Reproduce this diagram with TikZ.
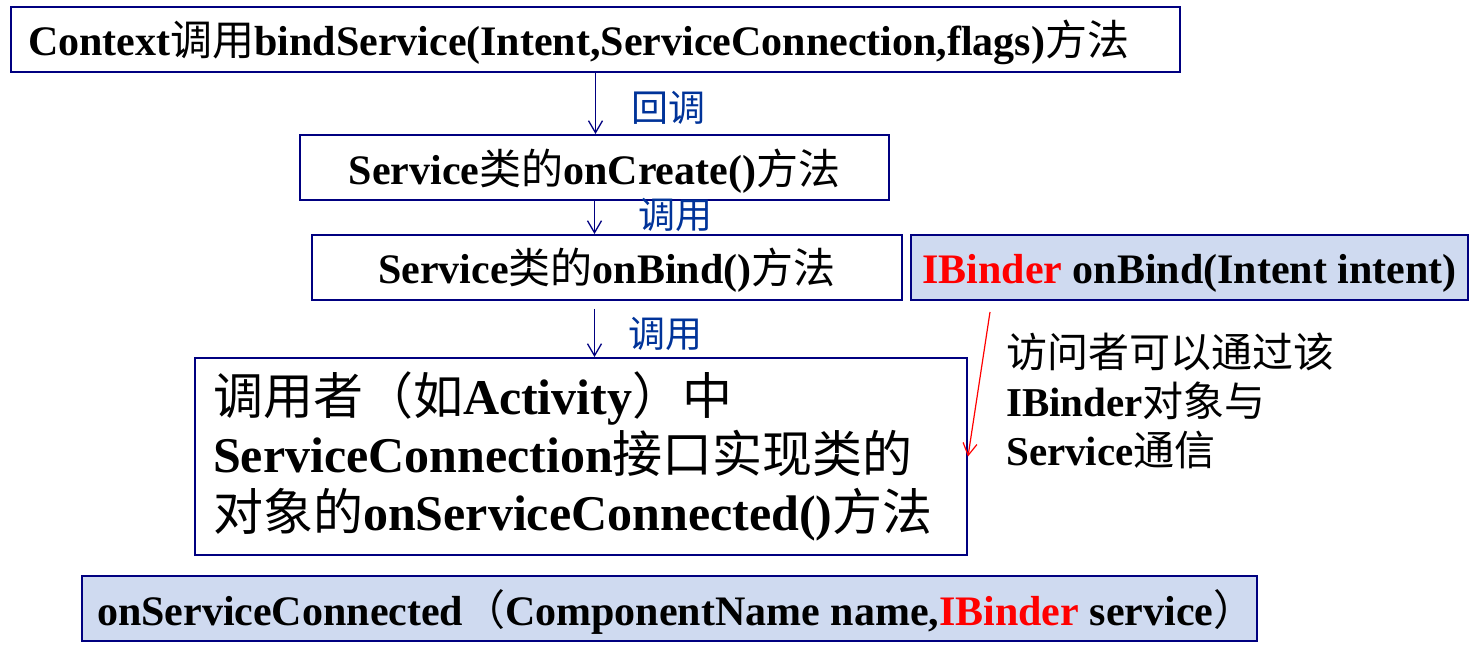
\documentclass[tikz,border=0pt]{standalone}
\usepackage{fontspec}
\setmainfont{Liberation Serif}
\newfontfamily\cjkfont{Noto Sans CJK SC}
\newcommand\zh[1]{{\cjkfont\mdseries #1}}
\usetikzlibrary{arrows.meta}
\definecolor{navy}{RGB}{0,0,128}
\definecolor{lightfill}{RGB}{207,218,240}
\definecolor{lblue}{RGB}{0,51,153}
\definecolor{redc}{RGB}{255,0,0}
\begin{document}
\begin{tikzpicture}[x=1pt,y=-1pt,
  box/.style={draw=navy, line width=2pt, inner sep=0pt, minimum height=65pt,
    text height=36pt, text depth=3pt,
    font=\bfseries\fontsize{42}{48}\selectfont},
  bluebox/.style={box, fill=lightfill},
  arr/.style={draw=navy, line width=1.3pt, -{Straight Barb[length=12pt,width=14pt]}},
  redarr/.style={draw=redc, line width=1.2pt, -{Straight Barb[length=12pt,width=14pt]}},
  lbl/.style={font=\cjkfont\fontsize{37}{40}\selectfont, text=lblue, inner sep=0pt},
  side/.style={font=\bfseries\fontsize{41}{49}\selectfont, align=left, inner sep=0pt}
]
\useasboundingbox (0,0) rectangle (1481,660);

\node[box, inner xsep=17pt] (b1) at (595.5,39.5)
  {\makebox[1135pt][l]{Context\zh{调用}bindService(Intent,ServiceConnection,flags)\zh{方法}}};
\node[box, minimum width=589pt, text height=38pt] (b2) at (594.5,167.5)
  {Service\zh{类的}onCreate()\zh{方法}};
\node[box, minimum width=590pt] (b3) at (607,267.5)
  {Service\zh{类的}onBind()\zh{方法}};
\node[bluebox, minimum width=557pt] (ib) at (1189.5,267.5)
  {\textcolor{redc}{IBinder} onBind(Intent intent)};
\node[box, minimum height=197pt, inner xsep=18pt, text width=736pt, align=left,
  text height=, text depth=,
  font=\bfseries\fontsize{50}{58}\selectfont] (b4) at (581,456.5)
  {\zh{调用者（如}Activity\zh{）中}\\ServiceConnection\zh{接口实现类的}\\\zh{对象的}onServiceConnected()\zh{方法}};
\node[bluebox, inner xsep=15pt] (b5) at (669.5,608.5)
  {\makebox[1145pt][l]{onServiceConnected\zh{（}ComponentName name,\textcolor{redc}{IBinder} service\zh{）}}};

\draw[arr] (b1.south) -- node[lbl, anchor=west, xshift=35pt, yshift=-4.5pt] {回调} (b1.south |- b2.north);
\draw[arr] (b2.south) -- node[lbl, anchor=west, xshift=43pt, yshift=2.5pt] {调用} (b2.south |- b3.north);
\draw[arr, shorten <=8pt] (b2.south |- b3.south) -- node[lbl, anchor=west, xshift=33pt, yshift=-4.5pt] {调用} (b2.south |- b4.north);

\coordinate (rs) at (990,312);
\draw[redarr] (rs) -- (b4.east);

\node[side, anchor=west] (note) at (1006,401)
  {\zh{访问者可以通过该}\\IBinder\zh{对象与}\\Service\zh{通信}};
\end{tikzpicture}
\end{document}
